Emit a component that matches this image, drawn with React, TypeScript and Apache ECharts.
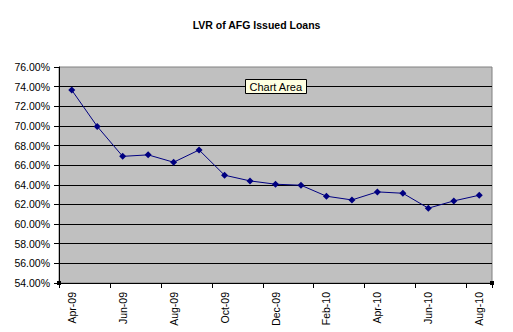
import React, { useEffect, useRef } from "react";
import * as echarts from "echarts";

const TITLE = "LVR of AFG Issued Loans";
const MONTHS = [
  "Apr-09", "May-09", "Jun-09", "Jul-09", "Aug-09", "Sep-09", "Oct-09", "Nov-09",
  "Dec-09", "Jan-10", "Feb-10", "Mar-10", "Apr-10", "May-10", "Jun-10", "Jul-10", "Aug-10",
];
const LVR = [
  73.65, 69.95, 66.9, 67.05, 66.3, 67.55, 64.98, 64.4, 64.06, 63.96, 62.84, 62.46,
  63.28, 63.14, 61.62, 62.36, 62.94,
];
const Y_MIN = 54;
const Y_MAX = 76;
const Y_STEP = 2;

export default function App() {
  const ref = useRef<HTMLDivElement>(null);
  useEffect(() => {
    document.body.style.margin = "0";
    const chart = echarts.init(ref.current!, null, { renderer: "svg" });
    const font = "'Liberation Sans', Arial, sans-serif";
    chart.setOption({
      animation: false,
      backgroundColor: "#ffffff",
      title: {
        text: TITLE,
        left: "center",
        top: 14,
        textStyle: { fontFamily: font, fontSize: 10.5, fontWeight: "bold", color: "#000" },
      },
      grid: {
        left: 59,
        right: 21,
        top: 67,
        bottom: 49,
        show: true,
        backgroundColor: "#C0C0C0",
        borderColor: "#808080",
        borderWidth: 1,
      },
      xAxis: {
        type: "category",
        data: MONTHS,
        boundaryGap: true,
        axisLine: { lineStyle: { color: "#000", width: 1 } },
        axisTick: { show: true, interval: 1, length: 5, alignWithLabel: false, lineStyle: { color: "#000" } },
        axisLabel: {
          interval: 1,
          rotate: 90,
          margin: 9,
          color: "#000",
          fontFamily: font,
          fontSize: 10.5,
        },
        splitLine: { show: false },
      },
      yAxis: {
        type: "value",
        min: Y_MIN,
        max: Y_MAX,
        interval: Y_STEP,
        axisLine: { show: true, lineStyle: { color: "#000", width: 1 } },
        axisTick: { show: true, length: 5, lineStyle: { color: "#000" } },
        axisLabel: {
          margin: 9,
          color: "#000",
          fontFamily: font,
          fontSize: 10.5,
          formatter: (v: number) => v.toFixed(2) + "%",
        },
        splitLine: { show: true, showMaxLine: false, lineStyle: { color: "#000", width: 1 } },
      },
      series: [
        {
          type: "line",
          data: LVR,
          symbol: "diamond",
          symbolSize: 7,
          lineStyle: { color: "#000080", width: 1 },
          itemStyle: { color: "#000080" },
        },
      ],
      graphic: [
        {
          type: "group",
          left: 245,
          top: 79,
          z: 100,
          children: [
            {
              type: "rect",
              z: 100,
              shape: { x: 0, y: 0, width: 61, height: 14 },
              style: { fill: "#FFFFE1", stroke: "#000", lineWidth: 1 },
            },
            {
              type: "text",
              z: 101,
              x: 4,
              y: 7,
              style: {
                text: "Chart Area",
                fill: "#000",
                font: "11px 'Liberation Sans', Arial, sans-serif",
                verticalAlign: "middle",
              },
            },
          ],
        },
        { type: "rect", z: 100, shape: { x: 57, y: 281, width: 4, height: 4 }, style: { fill: "#000" } },
        { type: "rect", z: 100, shape: { x: 490, y: 281, width: 4, height: 4 }, style: { fill: "#000" } },
      ],
    });
    return () => chart.dispose();
  }, []);
  return <div ref={ref} style={{ width: 513, height: 332 }} />;
}
